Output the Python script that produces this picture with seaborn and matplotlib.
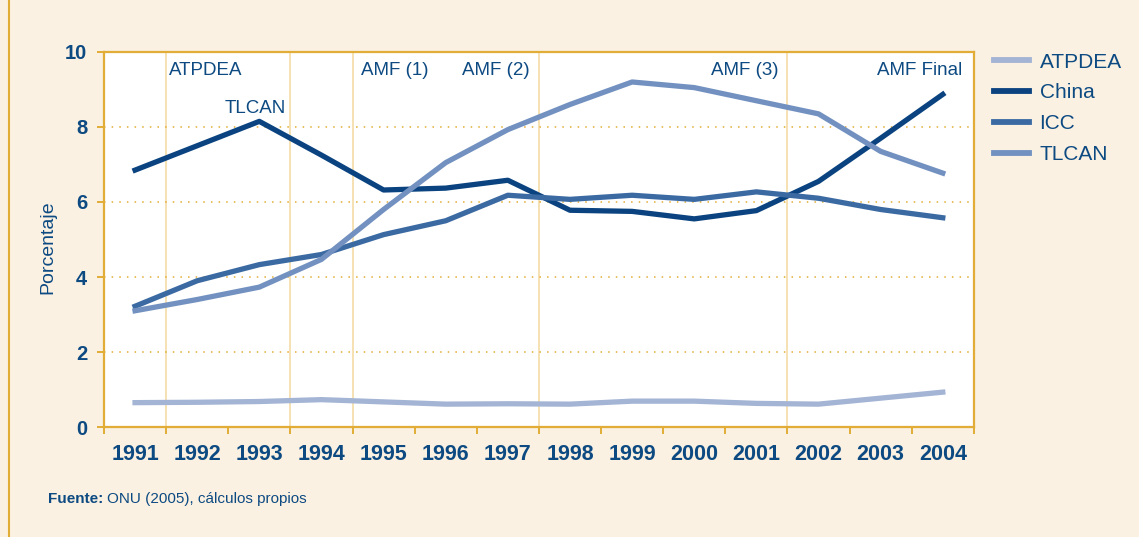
import numpy as np
import pandas as pd
import matplotlib
matplotlib.use("Agg")
import matplotlib.pyplot as plt
import seaborn as sns
from matplotlib.lines import Line2D
from matplotlib.ticker import FixedLocator

# Data
years = [1991, 1992, 1993, 1994, 1995, 1996, 1997, 1998, 1999, 2000, 2001, 2002, 2003, 2004]
atpdea = [0.65, 0.66, 0.68, 0.73, 0.67, 0.61, 0.62, 0.61, 0.69, 0.69, 0.63, 0.61, 0.77, 0.93]
china = [6.85, 7.50, 8.15, 7.25, 6.32, 6.37, 6.58, 5.78, 5.75, 5.55, 5.77, 6.55, 7.70, 8.87]
icc = [3.22, 3.90, 4.33, 4.60, 5.13, 5.50, 6.18, 6.07, 6.18, 6.07, 6.27, 6.10, 5.80, 5.58]
tlcan = [3.10, 3.40, 3.73, 4.47, 5.80, 7.05, 7.93, 8.60, 9.20, 9.05, 8.70, 8.35, 7.35, 6.77]
series_names = ["ATPDEA", "China", "ICC", "TLCAN"]
series_colors = ["#a3b4d4", "#0a4380", "#3b6aa3", "#7291c0"]

# first year after each agreement milestone (separator drawn before it)
event_years = [1992, 1994, 1995, 1998, 2002]

# Constants
navy = "#0d4a82"
gold = "#e2ad36"
pale_gold = "#f3dba6"
cream = "#faf1e2"

plt.rcParams["font.family"] = ["Liberation Sans", "DejaVu Sans"]

df = pd.DataFrame({
    "pos": list(range(len(years))) * 4,
    "valor": atpdea + china + icc + tlcan,
    "serie": np.repeat(series_names, len(years)),
})

fig = plt.figure(figsize=(11.39, 5.37), dpi=100, facecolor=cream)
ax = fig.add_axes([0.0913, 0.2048, 0.7637, 0.6984])
ax.set_facecolor("white")

sns.lineplot(data=df, x="pos", y="valor", hue="serie", hue_order=series_names,
             palette=series_colors, linewidth=3.8, ax=ax, legend=False, zorder=3)

# milestone separators
for yr in event_years:
    ax.axvline(years.index(yr) - 0.5, color=pale_gold, linewidth=1.2, zorder=1)

# horizontal dotted grid
for yv in [2, 4, 6, 8]:
    ax.axhline(yv, color=gold, linestyle=(0, (1, 4)), linewidth=1.1, zorder=1)

ax.set_xlim(-0.5, len(years) - 0.5)
ax.set_ylim(0, 10)
ax.set_yticks([0, 2, 4, 6, 8, 10])
ax.set_xticks(range(len(years)))
ax.set_xticklabels([str(y) for y in years])
ax.xaxis.set_minor_locator(FixedLocator(np.arange(-0.5, len(years), 1.0)))
ax.tick_params(axis="x", which="major", length=0, pad=12)
ax.tick_params(axis="x", which="minor", length=5, width=1.4, color=gold, direction="out")
ax.tick_params(axis="y", length=5, width=1.4, color=gold, direction="out", pad=7)
for lab in ax.get_xticklabels() + ax.get_yticklabels():
    lab.set_fontweight("bold")
    lab.set_color(navy)
for lab in ax.get_xticklabels():
    lab.set_fontsize(15.5)
for lab in ax.get_yticklabels():
    lab.set_fontsize(14.5)

ax.set_xlabel("")
ax.set_ylabel("Porcentaje", fontsize=14, color=navy)
ax.yaxis.set_label_coords(-0.055, 0.48)

for side in ["top", "right", "bottom", "left"]:
    ax.spines[side].set_color(gold)
    ax.spines[side].set_linewidth(1.6)

# milestone annotations
txt = dict(fontsize=13.5, color=navy, va="center")
ax.text(years.index(1992) - 0.45, 9.5, "ATPDEA", ha="left", **txt)
ax.text(years.index(1993) - 0.07, 8.5, "TLCAN", ha="center", **txt)
ax.text(years.index(1995) - 0.37, 9.5, "AMF (1)", ha="left", **txt)
ax.text(years.index(1998) - 0.65, 9.5, "AMF (2)", ha="right", **txt)
ax.text(years.index(2002) - 0.65, 9.5, "AMF (3)", ha="right", **txt)
ax.text(len(years) - 0.68, 9.5, "AMF Final", ha="right", **txt)

# legend
handles = [Line2D([0], [0], color=c, linewidth=4.2) for c in series_colors]
leg = fig.legend(handles, series_names, loc="upper left", bbox_to_anchor=(0.856, 0.937),
                 frameon=False, handlelength=1.7, handletextpad=0.5, labelspacing=0.57,
                 fontsize=15)
for t in leg.get_texts():
    t.set_color(navy)

# source note
src = fig.text(0.042, 0.063, "Fuente:", fontsize=11, fontweight="bold", color=navy)
ax.annotate("ONU (2005), cálculos propios", xy=(1, 0), xycoords=src, xytext=(3, 0),
            textcoords="offset points", fontsize=11, color=navy, va="bottom",
            annotation_clip=False)

# left frame line
fig.add_artist(Line2D([0.008, 0.008], [0, 1], transform=fig.transFigure, color=gold, linewidth=1.5))

fig.savefig("out.png", dpi=100, facecolor=cream)
